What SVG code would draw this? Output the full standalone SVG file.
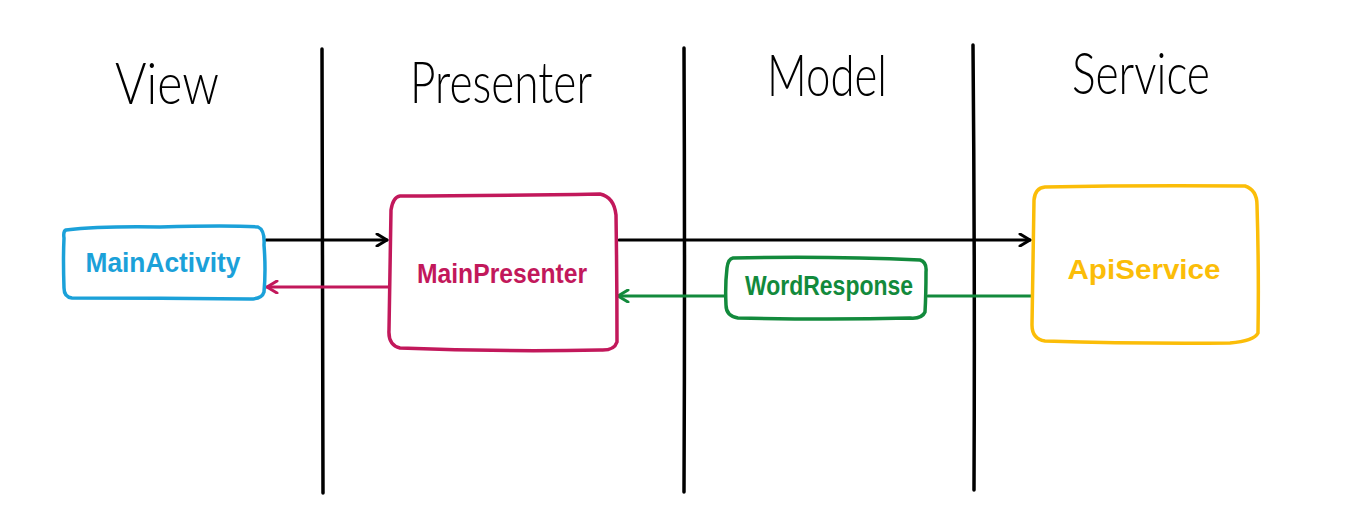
<svg xmlns="http://www.w3.org/2000/svg" width="1347" height="517" viewBox="0 0 1347 517">
<defs>
<style>
.title{font-family:"Lato","Liberation Sans",sans-serif;font-weight:300;font-size:58px;fill:#000}
.lbl{font-family:"Liberation Sans","DejaVu Sans",sans-serif;font-size:27px;font-weight:bold}
.box{fill:#fff;stroke-width:3.5;stroke-linecap:round;stroke-linejoin:round}
.sep{stroke:#000;stroke-width:3.5;fill:none;stroke-linecap:round}
.con{fill:none;stroke-width:3;stroke-linecap:round;stroke-linejoin:round}
</style>
<marker id="ahK" viewBox="0 0 14 14" refX="12" refY="7" markerWidth="14" markerHeight="14" markerUnits="userSpaceOnUse" orient="auto"><path d="M2,1 L12,7 L2,13" fill="none" stroke="#000" stroke-width="3" stroke-linecap="round" stroke-linejoin="round"/></marker>
<marker id="ahR" viewBox="0 0 14 14" refX="12" refY="7" markerWidth="14" markerHeight="14" markerUnits="userSpaceOnUse" orient="auto"><path d="M2,1 L12,7 L2,13" fill="none" stroke="#c2185b" stroke-width="3" stroke-linecap="round" stroke-linejoin="round"/></marker>
<marker id="ahG" viewBox="0 0 14 14" refX="12" refY="7" markerWidth="14" markerHeight="14" markerUnits="userSpaceOnUse" orient="auto"><path d="M2,1 L12,7 L2,13" fill="none" stroke="#128a3c" stroke-width="3" stroke-linecap="round" stroke-linejoin="round"/></marker>
</defs>
<rect width="1347" height="517" fill="#fff"/>
<g id="lanes">
<path class="sep" d="M322,49 Q323,270 323,493"/>
<path class="sep" d="M684,48 Q685,270 684,492"/>
<path class="sep" d="M973,45 Q975,270 974,490"/>
<text class="title" x="167" y="104" text-anchor="middle" textLength="104" lengthAdjust="spacingAndGlyphs">View</text>
<text class="title" x="501" y="103" text-anchor="middle" textLength="182" lengthAdjust="spacingAndGlyphs">Presenter</text>
<text class="title" x="827" y="96" text-anchor="middle" textLength="120" lengthAdjust="spacingAndGlyphs">Model</text>
<text class="title" x="1141" y="94" text-anchor="middle" textLength="138" lengthAdjust="spacingAndGlyphs">Service</text>
</g>
<g id="connectors">
<path class="con" stroke="#000" d="M266,240 L387,240" marker-end="url(#ahK)"/>
<path class="con" stroke="#c2185b" d="M389,287 L267,287" marker-end="url(#ahR)"/>
<path class="con" stroke="#000" d="M619,240 L1030,240" marker-end="url(#ahK)"/>
<path class="con" stroke="#128a3c" d="M1031,296 L928,296"/>
<path class="con" stroke="#128a3c" d="M725,296 L618,296" marker-end="url(#ahG)"/>
</g>
<g id="mainActivity">
<path class="box" stroke="#1ba1d9" d="M66,230 Q100,226 160,227 Q230,225 258,227 Q265,230 264,245 Q266,270 264,292 Q262,299 250,299 Q160,298 72,298 Q64,297 64,288 Q63,260 64,238 Q63,231 66,230 Z"/>
<text class="lbl" x="163" y="272" text-anchor="middle" fill="#1ba1d9" textLength="155" lengthAdjust="spacingAndGlyphs">MainActivity</text>
</g>
<g id="mainPresenter">
<path class="box" stroke="#c2185b" d="M400,196 Q480,196 600,194 Q614,197 616,215 Q617,280 617,342 Q614,351 600,350 Q500,352 400,348 Q388,345 389,330 Q390,270 391,210 Q393,197 400,196 Z"/>
<text class="lbl" x="502" y="283" text-anchor="middle" fill="#c2185b" textLength="170" lengthAdjust="spacingAndGlyphs">MainPresenter</text>
</g>
<g id="wordResponse">
<path class="box" stroke="#128a3c" d="M733,258 Q830,256 920,260 Q927,262 926,272 Q926,295 925,312 Q922,319 910,318 Q830,320 738,318 Q726,316 726,305 Q725,285 727,268 Q728,259 733,258 Z"/>
<text class="lbl" x="829" y="295" text-anchor="middle" fill="#128a3c" textLength="168" lengthAdjust="spacingAndGlyphs">WordResponse</text>
</g>
<g id="apiService">
<path class="box" stroke="#fbbd08" d="M1045,187 Q1140,185 1245,186 Q1257,190 1257,205 Q1259,270 1258,333 Q1254,341 1230,343 Q1140,344 1045,341 Q1032,339 1032,325 Q1033,260 1034,200 Q1035,188 1045,187 Z"/>
<text class="lbl" x="1144" y="279" text-anchor="middle" fill="#fbbd08" font-size="38" textLength="153" lengthAdjust="spacingAndGlyphs">ApiService</text>
</g>
</svg>
